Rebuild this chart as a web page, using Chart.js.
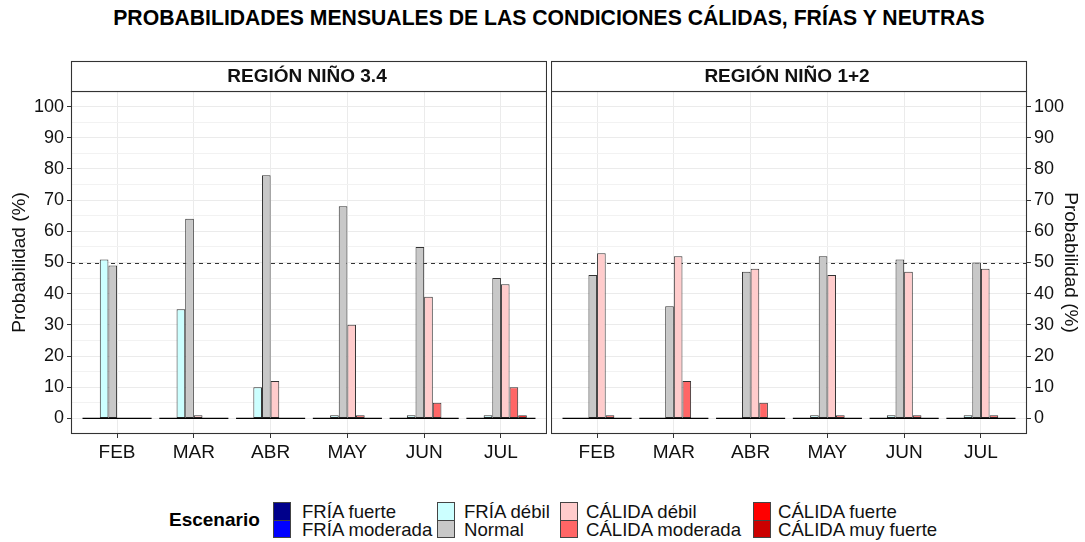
<!DOCTYPE html>
<html>
<head>
<meta charset="utf-8">
<script src="https://cdn.jsdelivr.net/npm/chart.js@4/dist/chart.umd.min.js"></script>
<style>
  body { margin: 0; background: #fff; font-family: "Liberation Sans", Arial, sans-serif; }
  #fig { position: relative; width: 1085px; height: 542px; overflow: hidden; }
  #titulo { position: absolute; left: 71px; width: 956px; top: 6px; text-align: center; font-weight: bold; font-size: 21.2px; color: #000; }
  canvas { position: absolute; top: 0; }
  .ley { position: absolute; font-size: 18.6px; color: #111; white-space: nowrap; line-height: 18px; }
  .key { position: absolute; width: 16px; height: 16.5px; border: 1px solid #444; box-sizing: content-box; }
</style>
</head>
<body>
<div id="fig">
  <div id="titulo">PROBABILIDADES MENSUALES DE LAS CONDICIONES CÁLIDAS, FRÍAS Y NEUTRAS</div>
  <canvas id="panel34" width="547" height="470" style="left:0px"></canvas>
  <canvas id="panel12" width="534" height="470" style="left:551px"></canvas>
  <div id="leyenda"></div>
</div>
<script>
// datos
const meses = ['FEB', 'MAR', 'ABR', 'MAY', 'JUN', 'JUL']
const escenarios = ['FRÍA fuerte', 'FRÍA moderada', 'FRÍA débil', 'Normal', 'CÁLIDA débil', 'CÁLIDA moderada', 'CÁLIDA fuerte', 'CÁLIDA muy fuerte']
const yTicks = [0, 10, 20, 30, 40, 50, 60, 70, 80, 90, 100]

// Región Niño 3.4
const n34FriaFuerte = [0, 0, 0, 0, 0, 0]
const n34FriaModerada = [0, 0, 0, 0, 0, 0]
const n34FriaDebil = [51, 35, 10, 1, 1, 1]
const n34Normal = [49, 64, 78, 68, 55, 45]
const n34CalidaDebil = [0, 1, 12, 30, 39, 43]
const n34CalidaModerada = [0, 0, 0, 1, 5, 10]
const n34CalidaFuerte = [0, 0, 0, 0, 0, 1]
const n34CalidaMuyFuerte = [0, 0, 0, 0, 0, 0]

// Región Niño 1+2
const n12FriaFuerte = [0, 0, 0, 0, 0, 0]
const n12FriaModerada = [0, 0, 0, 0, 0, 0]
const n12FriaDebil = [0, 0, 0, 1, 1, 1]
const n12Normal = [46, 36, 47, 52, 51, 50]
const n12CalidaDebil = [53, 52, 48, 46, 47, 48]
const n12CalidaModerada = [1, 12, 5, 1, 1, 1]
const n12CalidaFuerte = [0, 0, 0, 0, 0, 0]
const n12CalidaMuyFuerte = [0, 0, 0, 0, 0, 0]

const lineaReferencia = 50

// estilos
const colores = ['#00008B', '#0000FF', '#CCFFFF', '#C8C8C8', '#FFCCCC', '#FF6666', '#FF0000', '#CC0000']
const fuente = '"Liberation Sans", Arial, sans-serif'

const panelPlugin = {
    id: 'panelGG',
    beforeDatasetsDraw(chart) {
        // linea discontinua en 50%
        const { ctx, chartArea, scales } = chart
        const y = Math.round(scales.y.getPixelForValue(lineaReferencia)) + 0.5
        ctx.save()
        ctx.strokeStyle = '#333'
        ctx.lineWidth = 1
        ctx.setLineDash([4, 4])
        ctx.beginPath()
        ctx.moveTo(chartArea.left, y)
        ctx.lineTo(chartArea.right, y)
        ctx.stroke()
        ctx.restore()
    },
    afterDatasetsDraw(chart, args, opts) {
        const { ctx, chartArea, scales } = chart
        const y0 = scales.y.getPixelForValue(0)
        const primero = chart.getDatasetMeta(0)
        const ultimo = chart.getDatasetMeta(chart.data.datasets.length - 1)
        ctx.save()
        // barras en cero -> linea base del grupo
        ctx.strokeStyle = '#000'
        ctx.lineWidth = 1.4
        for (let i = 0; i < meses.length; i++) {
            const a = primero.data[i], b = ultimo.data[i]
            ctx.beginPath()
            ctx.moveTo(a.x - a.width / 2, y0)
            ctx.lineTo(b.x + b.width / 2, y0)
            ctx.stroke()
        }
        // borde del panel
        ctx.strokeStyle = '#333'
        ctx.lineWidth = 1.1
        ctx.strokeRect(chartArea.left + 0.5, chartArea.top + 0.5, chartArea.width - 1, chartArea.height - 1)
        // franja con el titulo del panel
        const h = 30
        ctx.fillStyle = '#fff'
        ctx.fillRect(chartArea.left + 0.5, chartArea.top - h + 0.5, chartArea.width - 1, h)
        ctx.strokeRect(chartArea.left + 0.5, chartArea.top - h + 0.5, chartArea.width - 1, h)
        ctx.fillStyle = '#111'
        ctx.font = 'bold 19px ' + fuente
        ctx.textAlign = 'center'
        ctx.textBaseline = 'middle'
        ctx.fillText(opts.titulo, (chartArea.left + chartArea.right) / 2 - 2, chartArea.top - h / 2 + 1)
        ctx.restore()
    }
}

function crearPanel(id, titulo, series, lado) {
    const datasets = series.map((valores, k) => ({
        label: escenarios[k],
        data: valores.map((v, i) => ({ x: i, y: v })),
        backgroundColor: colores[k],
        borderColor: '#333',
        borderWidth: 1,
        borderSkipped: false,
        categoryPercentage: 0.9,
        barPercentage: 1
    }))

    return new Chart(document.getElementById(id), {
        type: 'bar',
        data: { datasets: datasets },
        plugins: [panelPlugin],
        options: {
            responsive: false,
            animation: false,
            events: [],
            layout: { padding: { top: 91, left: 0, right: 0, bottom: 0 } },
            plugins: {
                legend: { display: false },
                tooltip: { enabled: false },
                panelGG: { titulo: titulo }
            },
            scales: {
                x: {
                    type: 'linear',
                    min: -0.6,
                    max: 5.6,
                    offset: false,
                    afterBuildTicks: (s) => { s.ticks = meses.map((m, i) => ({ value: i })) },
                    afterFit: (s) => { s.height = 36 },
                    grid: { color: '#ebebeb', tickColor: '#333', tickLength: 4, offset: false },
                    border: { display: false },
                    ticks: {
                        autoSkip: false,
                        maxRotation: 0,
                        padding: 3,
                        color: '#111',
                        font: { family: fuente, size: 19 },
                        callback: (v) => meses[Math.round(v)]
                    }
                },
                y: {
                    position: lado,
                    min: -5,
                    max: 105,
                    afterBuildTicks: (s) => {
                        const t = []
                        for (let v = 0; v <= 100; v += 5) t.push({ value: v })
                        s.ticks = t
                    },
                    afterFit: (s) => { s.width = lado === 'left' ? 71 : 58 },
                    grid: {
                        color: (c) => (c.tick && c.tick.value % 10 === 0) ? '#ebebeb' : '#f2f2f2',
                        tickColor: (c) => (c.tick && c.tick.value % 10 === 0) ? '#333' : 'rgba(0,0,0,0)',
                        tickLength: 4
                    },
                    border: { display: false },
                    title: {
                        display: true,
                        text: 'Probabilidad (%)',
                        color: '#111',
                        font: { family: fuente, size: 19 },
                        padding: { top: lado === 'left' ? 8 : 3, bottom: 0 }
                    },
                    ticks: {
                        autoSkip: false,
                        padding: 3,
                        color: '#111',
                        font: { family: fuente, size: 18 },
                        callback: (v) => yTicks.includes(v) ? String(v) : ''
                    }
                }
            }
        }
    })
}

crearPanel('panel34', 'REGIÓN NIÑO 3.4', [n34FriaFuerte, n34FriaModerada, n34FriaDebil, n34Normal, n34CalidaDebil, n34CalidaModerada, n34CalidaFuerte, n34CalidaMuyFuerte], 'left')
crearPanel('panel12', 'REGIÓN NIÑO 1+2', [n12FriaFuerte, n12FriaModerada, n12FriaDebil, n12Normal, n12CalidaDebil, n12CalidaModerada, n12CalidaFuerte, n12CalidaMuyFuerte], 'right')

// leyenda (ggplot: 4 columnas x 2 filas)
const leyenda = document.getElementById('leyenda')
const colKey = [273, 437, 560, 753]
const colTxt = [302, 464, 586, 778]
let html = '<div class="ley" style="left:169px;top:511px;font-weight:bold;font-size:19px;color:#000">Escenario</div>'
escenarios.forEach((nombre, k) => {
    const col = Math.floor(k / 2), fila = k % 2
    const top = 502 + fila * 17.5
    html += `<div class="key" style="left:${colKey[col]}px;top:${top}px;background:${colores[k]}"></div>`
    html += `<div class="ley" style="left:${colTxt[col]}px;top:${top + 1}px">${nombre}</div>`
})
leyenda.innerHTML = html
</script>
</body>
</html>
